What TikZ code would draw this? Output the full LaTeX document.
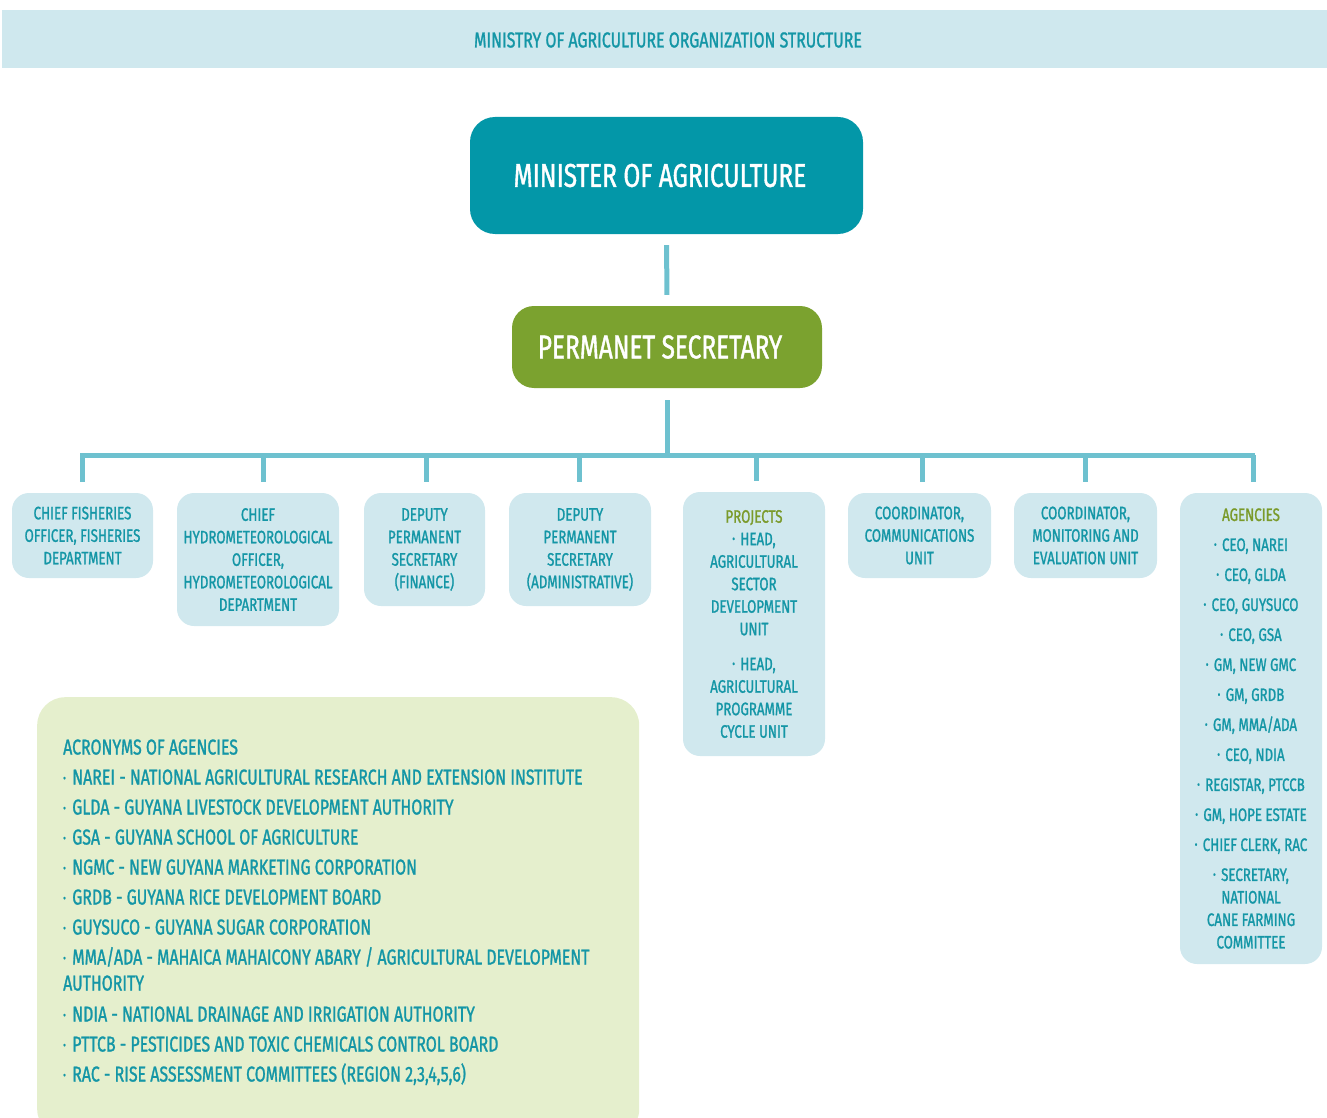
\documentclass[tikz,border=0pt]{standalone}
\usepackage{fontspec}
\setmainfont{Fira Sans}[FakeStretch=0.74, FakeBold=1.2]
\definecolor{tealt}{HTML}{1496A6}
\definecolor{tealbox}{HTML}{0397A8}
\definecolor{greenbox}{HTML}{7BA22F}
\definecolor{greent}{HTML}{7A9A2A}
\definecolor{boxc}{HTML}{D0E8EE}
\definecolor{bandc}{HTML}{CFE8EE}
\definecolor{connc}{HTML}{6EC1CF}
\definecolor{acrc}{HTML}{E5EFCD}
\newcommand\bul{{\fontsize{11}{11}\selectfont\raisebox{0.45ex}{•}}\hspace{0.3em}}
\begin{document}
\begin{tikzpicture}[x=1pt,y=-1pt,
  conn/.style={draw=connc, line width=5pt},
  unitbox/.style={rectangle, rounded corners=17pt, fill=boxc, text=tealt, align=center, inner sep=0pt, font=\fontsize{18}{22.5}\selectfont},
  topbox/.style={rectangle, fill=tealbox, text=white, rounded corners=25pt, inner sep=0pt, font=\fontsize{33}{36}\selectfont},
  psbox/.style={rectangle, fill=greenbox, text=white, rounded corners=22pt, inner sep=0pt, font=\fontsize{33}{36}\selectfont},
  acrline/.style={anchor=base west, inner sep=0pt, text=tealt, font=\fontsize{21.5}{24}\selectfont}
]
\useasboundingbox (0,0) rectangle (1327,1118);
% header band
\node[rectangle, fill=bandc, minimum width=1325pt, minimum height=58pt, inner sep=0pt, anchor=north west] (band) at (2,10) {};
\node[text=tealt, inner sep=0pt, font=\fontsize{21.5}{24}\selectfont] (title) at (668,40) {MINISTRY OF AGRICULTURE ORGANIZATION STRUCTURE};

% top boxes
\node[topbox, minimum width=393pt, minimum height=117pt] (min) at (666.5,175.5) {\hspace*{-13pt}MINISTER OF AGRICULTURE};
\node[psbox, minimum width=310pt, minimum height=82pt] (ps) at (667,347) {\hspace*{-14pt}PERMANET SECRETARY};

% units
\node[unitbox, minimum width=141pt, minimum height=85pt] (b1) at (82.5,535.5) {CHIEF FISHERIES\\OFFICER, FISHERIES\\DEPARTMENT};
\node[unitbox, minimum width=162pt, minimum height=133pt] (b2) at (258,559.5) {CHIEF\\HYDROMETEOROLOGICAL\\OFFICER,\\HYDROMETEOROLOGICAL\\DEPARTMENT};
\node[unitbox, minimum width=121pt, minimum height=113pt] (b3) at (424.5,549.5) {DEPUTY\\PERMANENT\\SECRETARY\\(FINANCE)};
\node[unitbox, minimum width=142pt, minimum height=113pt] (b4) at (580,549.5) {DEPUTY\\PERMANENT\\SECRETARY\\(ADMINISTRATIVE)};
\node[unitbox, minimum width=142pt, minimum height=264pt] (b5) at (754,624) {\textcolor{greent}{PROJECTS}\\\bul HEAD,\\AGRICULTURAL\\SECTOR\\DEVELOPMENT\\UNIT\\[12.5pt]\bul HEAD,\\AGRICULTURAL\\PROGRAMME\\CYCLE UNIT};
\node[unitbox, minimum width=143pt, minimum height=85pt] (b6) at (919.5,535.5) {COORDINATOR,\\COMMUNICATIONS\\UNIT};
\node[unitbox, minimum width=143pt, minimum height=85pt] (b7) at (1085.5,535.5) {COORDINATOR,\\MONITORING AND\\EVALUATION UNIT};
\node[unitbox, minimum width=142pt, minimum height=471pt] (b8) at (1251,728.5) {\textcolor{greent}{AGENCIES}\\[7.5pt]\bul CEO, NAREI\\[7.5pt]\bul CEO, GLDA\\[7.5pt]\bul CEO, GUYSUCO\\[7.5pt]\bul CEO, GSA\\[7.5pt]\bul GM, NEW GMC\\[7.5pt]\bul GM, GRDB\\[7.5pt]\bul GM, MMA/ADA\\[7.5pt]\bul CEO, NDIA\\[7.5pt]\bul REGISTAR, PTCCB\\[7.5pt]\bul GM, HOPE ESTATE\\[7.5pt]\bul CHIEF CLERK, RAC\\[7.5pt]\bul SECRETARY,\\NATIONAL\\CANE FARMING\\COMMITTEE};

% connectors
\coordinate (bus) at (668,455);
\coordinate (busl) at (80,455);
\coordinate (busr) at (1255,455);
\draw[conn, shorten <=11pt, shorten >=11pt] (min.south) -- (ps.north);
\draw[conn, shorten <=12pt] (ps.south) -- (ps.south |- bus);
\draw[conn] (busl) -- (busr);
\foreach \b/\dx in {b1/0,b2/5,b3/1.5,b4/-1,b5/2,b6/2.5,b7/0,b8/2}{
  \draw[conn, shorten >=11pt] ([xshift=\dx pt]\b.north |- bus) -- ([xshift=\dx pt]\b.north);
}

% acronyms
\node[rectangle, fill=acrc, rounded corners=28pt, minimum width=602pt, minimum height=440pt, anchor=north west, inner sep=0pt] (acr) at (37,697) {};
\node[acrline] (a0) at (63,754.5) {ACRONYMS OF AGENCIES};
\node[acrline] (a1) at (63,784.5) {\bul NAREI - NATIONAL AGRICULTURAL RESEARCH AND EXTENSION INSTITUTE};
\node[acrline] (a2) at (63,814.5) {\bul GLDA - GUYANA LIVESTOCK DEVELOPMENT AUTHORITY};
\node[acrline] (a3) at (63,844.5) {\bul GSA - GUYANA SCHOOL OF AGRICULTURE};
\node[acrline] (a4) at (63,874.5) {\bul NGMC - NEW GUYANA MARKETING CORPORATION};
\node[acrline] (a5) at (63,904.5) {\bul GRDB - GUYANA RICE DEVELOPMENT BOARD};
\node[acrline] (a6) at (63,934.5) {\bul GUYSUCO - GUYANA SUGAR CORPORATION};
\node[acrline] (a7) at (63,964.5) {\bul MMA/ADA - MAHAICA MAHAICONY ABARY / AGRICULTURAL DEVELOPMENT};
\node[acrline] (a7b) at (63,990.5) {AUTHORITY};
\node[acrline] (a8) at (63,1021.5) {\bul NDIA - NATIONAL DRAINAGE AND IRRIGATION AUTHORITY};
\node[acrline] (a9) at (63,1051.5) {\bul PTTCB - PESTICIDES AND TOXIC CHEMICALS CONTROL BOARD};
\node[acrline] (a10) at (63,1081.5) {\bul RAC - RISE ASSESSMENT COMMITTEES (REGION 2,3,4,5,6)};
\end{tikzpicture}
\end{document}
